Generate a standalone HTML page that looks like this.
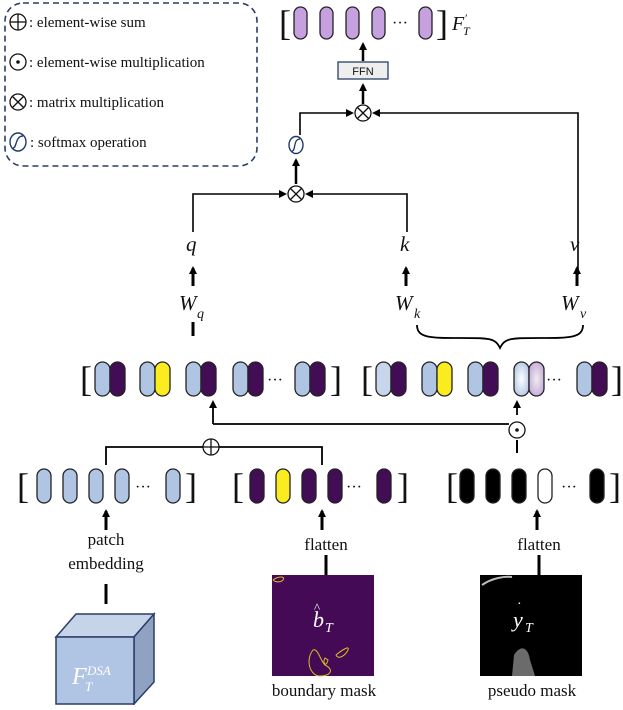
<!DOCTYPE html>
<html><head><meta charset="utf-8"><style>
body{margin:0;background:#fff;width:623px;height:705px;overflow:hidden}
text{font-family:"Liberation Serif",serif;fill:#111}
.m{font-style:italic}
</style></head><body>
<svg width="623" height="705" viewBox="0 0 623 705" xmlns="http://www.w3.org/2000/svg">
<defs>
<marker id="a" markerWidth="8" markerHeight="8" refX="6" refY="4" orient="auto" markerUnits="userSpaceOnUse"><path d="M0,0 L8,4 L0,8 z" fill="#000"/></marker>
<radialGradient id="g1" cx="0.5" cy="0.5" r="0.6"><stop offset="0" stop-color="#fff"/><stop offset="1" stop-color="#b0c4e4"/></radialGradient>
<radialGradient id="g2" cx="0.5" cy="0.5" r="0.6"><stop offset="0" stop-color="#eee"/><stop offset="1" stop-color="#c4a4d8"/></radialGradient>
</defs>
<rect x="5" y="3" width="252" height="163" rx="18" fill="none" stroke="#2a3d66" stroke-width="1.6" stroke-dasharray="6,4"/>
<g stroke="#111" stroke-width="1.3" fill="none">
<circle cx="18" cy="22" r="8"/><line x1="10" y1="22" x2="26" y2="22"/><line x1="18" y1="14" x2="18" y2="30"/>
<circle cx="18" cy="62" r="8"/>
<circle cx="18" cy="102" r="8"/><line x1="12.5" y1="96.5" x2="23.5" y2="107.5"/><line x1="23.5" y1="96.5" x2="12.5" y2="107.5"/>
</g>
<circle cx="18" cy="62" r="1.8" fill="#111"/>
<ellipse cx="18" cy="142" rx="8" ry="9" fill="none" stroke="#1f3a6a" stroke-width="1.4"/>
<path d="M13,148 C17,148 15,136 23,136" fill="none" stroke="#1f3a6a" stroke-width="1.4"/>
<g font-size="15"><text x="29" y="27">: element-wise sum</text><text x="29" y="67">: element-wise multiplication</text><text x="29" y="107">: matrix multiplication</text><text x="30" y="147">: softmax operation</text></g>
<g font-size="36"><text x="279" y="35">[</text><text x="436" y="35">]</text></g>
<g fill="#c7a0e0" stroke="#222" stroke-width="1.3">
<rect x="294" y="7" width="13" height="32" rx="6.5"/><rect x="320" y="7" width="13" height="32" rx="6.5"/><rect x="346" y="7" width="13" height="32" rx="6.5"/><rect x="372" y="7" width="13" height="32" rx="6.5"/><rect x="419" y="7" width="13" height="32" rx="6.5"/>
</g>
<text x="392" y="28" font-size="16">···</text>
<text x="452" y="30" font-size="20" class="m">F</text><text x="465" y="22" font-size="12">′</text><text x="463" y="35" font-size="12" class="m">T</text>
<line x1="363" y1="61" x2="363" y2="44" stroke="#000" stroke-width="2.5" marker-end="url(#a)"/>
<rect x="338" y="62" width="50" height="17" fill="#eee" stroke="#2a3d66" stroke-width="1.3"/>
<text x="363" y="75" font-size="11" text-anchor="middle" style="font-family:'Liberation Sans',sans-serif">FFN</text>
<line x1="363" y1="104" x2="363" y2="85" stroke="#000" stroke-width="2.5" marker-end="url(#a)"/>
<g stroke="#111" stroke-width="1.3" fill="#fff">
<circle cx="363" cy="113" r="8"/><line x1="357.5" y1="107.5" x2="368.5" y2="118.5"/><line x1="368.5" y1="107.5" x2="357.5" y2="118.5"/>
<circle cx="296" cy="194" r="8"/><line x1="290.5" y1="188.5" x2="301.5" y2="199.5"/><line x1="301.5" y1="188.5" x2="290.5" y2="199.5"/>
</g>
<ellipse cx="296" cy="145" rx="7" ry="8.5" fill="none" stroke="#1f3a6a" stroke-width="1.4"/>
<path d="M292,151 C296,151 293,139 300,139" fill="none" stroke="#1f3a6a" stroke-width="1.3"/>
<g stroke="#000" stroke-width="1.6" fill="none">
<polyline points="300,135 300,113 352,113" marker-end="url(#a)"/>
<polyline points="578,275 578,113 374,113" marker-end="url(#a)"/>
<polyline points="193,232 193,194 285,194" marker-end="url(#a)"/>
<polyline points="407,232 407,194 307,194" marker-end="url(#a)"/>
</g>
<line x1="296" y1="184" x2="296" y2="160" stroke="#000" stroke-width="2.5" marker-end="url(#a)"/>
<g font-size="21" class="m"><text x="186" y="251">q</text><text x="400" y="251">k</text><text x="570" y="251">v</text>
<text x="179" y="310">W</text><text x="395" y="310">W</text><text x="561" y="310">W</text></g>
<g font-size="14" class="m"><text x="197" y="318">q</text><text x="414" y="318">k</text><text x="580" y="318">v</text></g>
<g stroke="#000" stroke-width="3">
<line x1="193" y1="286" x2="193" y2="268" marker-end="url(#a)"/><line x1="406" y1="286" x2="406" y2="268" marker-end="url(#a)"/><line x1="577" y1="286" x2="577" y2="268" marker-end="url(#a)"/>
<line x1="193" y1="322" x2="193" y2="336"/>
</g>
<path d="M417,325 C417,338 430,338 460,338 C490,338 495,338 500,348 C505,338 510,338 540,338 C570,338 583,338 583,325" fill="none" stroke="#000" stroke-width="1.8"/>
<g font-size="36"><text x="80" y="391">[</text><text x="330" y="391">]</text><text x="361" y="391">[</text><text x="611" y="391">]</text></g>
<g stroke="#222" stroke-width="1.3">
<rect x="95" y="362" width="15" height="34" rx="7.5" fill="#b0c4e4"/><rect x="110" y="362" width="15" height="34" rx="7.5" fill="#430d55"/>
<rect x="140" y="362" width="15" height="34" rx="7.5" fill="#b0c4e4"/><rect x="155" y="362" width="15" height="34" rx="7.5" fill="#fbec1f"/>
<rect x="186" y="362" width="15" height="34" rx="7.5" fill="#b0c4e4"/><rect x="201" y="362" width="15" height="34" rx="7.5" fill="#430d55"/>
<rect x="233" y="362" width="15" height="34" rx="7.5" fill="#b0c4e4"/><rect x="248" y="362" width="15" height="34" rx="7.5" fill="#430d55"/>
<rect x="295" y="362" width="15" height="34" rx="7.5" fill="#b0c4e4"/><rect x="310" y="362" width="15" height="34" rx="7.5" fill="#430d55"/>
<rect x="376" y="362" width="15" height="34" rx="7.5" fill="#c8d6ec"/><rect x="391" y="362" width="15" height="34" rx="7.5" fill="#430d55"/>
<rect x="422" y="362" width="15" height="34" rx="7.5" fill="#b0c4e4"/><rect x="437" y="362" width="15" height="34" rx="7.5" fill="#fbec1f"/>
<rect x="468" y="362" width="15" height="34" rx="7.5" fill="#b0c4e4"/><rect x="483" y="362" width="15" height="34" rx="7.5" fill="#430d55"/>
<rect x="514" y="362" width="15" height="34" rx="7.5" fill="url(#g1)"/><rect x="529" y="362" width="15" height="34" rx="7.5" fill="url(#g2)"/>
<rect x="577" y="362" width="15" height="34" rx="7.5" fill="#b0c4e4"/><rect x="592" y="362" width="15" height="34" rx="7.5" fill="#430d55"/>
</g>
<text x="267" y="385" font-size="16">···</text><text x="546" y="385" font-size="16">···</text>
<g stroke="#000" stroke-width="1.8" fill="none">
<line x1="213" y1="424" x2="213" y2="402" marker-end="url(#a)"/>
<line x1="213" y1="424" x2="509" y2="424"/>
<polyline points="106,465 106,447 203,447"/><polyline points="219,447 322,447 322,465"/>
<line x1="517" y1="415" x2="517" y2="402" marker-end="url(#a)"/>
<line x1="517" y1="440" x2="517" y2="453" stroke-width="2"/>
</g>
<g stroke="#111" stroke-width="1.3" fill="#fff">
<circle cx="211" cy="447" r="8"/><line x1="203" y1="447" x2="219" y2="447"/><line x1="211" y1="439" x2="211" y2="455"/>
<circle cx="517" cy="430" r="8"/>
</g>
<circle cx="517" cy="430" r="1.8" fill="#111"/>
<g font-size="36"><text x="17" y="498">[</text><text x="185" y="498">]</text><text x="232" y="498">[</text><text x="397" y="498">]</text><text x="446" y="498">[</text><text x="609" y="498">]</text></g>
<g stroke="#222" stroke-width="1.3">
<rect x="37" y="469" width="14" height="34" rx="7" fill="#b0c4e4"/><rect x="63" y="469" width="14" height="34" rx="7" fill="#b0c4e4"/><rect x="89" y="469" width="14" height="34" rx="7" fill="#b0c4e4"/><rect x="115" y="469" width="14" height="34" rx="7" fill="#b0c4e4"/><rect x="166" y="469" width="14" height="34" rx="7" fill="#b0c4e4"/>
<rect x="250" y="469" width="14" height="34" rx="7" fill="#430d55"/><rect x="276" y="469" width="14" height="34" rx="7" fill="#fbec1f"/><rect x="302" y="469" width="14" height="34" rx="7" fill="#430d55"/><rect x="328" y="469" width="14" height="34" rx="7" fill="#430d55"/><rect x="377" y="469" width="14" height="34" rx="7" fill="#430d55"/>
<rect x="460" y="469" width="14" height="34" rx="7" fill="#000"/><rect x="486" y="469" width="14" height="34" rx="7" fill="#000"/><rect x="512" y="469" width="14" height="34" rx="7" fill="#000"/><rect x="538" y="469" width="14" height="34" rx="7" fill="#fff"/><rect x="590" y="469" width="14" height="34" rx="7" fill="#000"/>
</g>
<text x="135" y="492" font-size="16">···</text><text x="346" y="492" font-size="16">···</text><text x="561" y="492" font-size="16">···</text>
<g stroke="#000" stroke-width="3">
<line x1="106" y1="530" x2="106" y2="511" marker-end="url(#a)"/><line x1="322" y1="530" x2="322" y2="511" marker-end="url(#a)"/><line x1="537" y1="530" x2="537" y2="511" marker-end="url(#a)"/>
<line x1="106" y1="584" x2="106" y2="604"/><line x1="326" y1="555" x2="326" y2="575"/><line x1="539" y1="555" x2="539" y2="575"/>
</g>
<g font-size="17" text-anchor="middle"><text x="106" y="545">patch</text><text x="106" y="569">embedding</text><text x="326" y="550">flatten</text><text x="539" y="550">flatten</text>
<text x="324" y="696">boundary mask</text><text x="532" y="696">pseudo mask</text></g>
<polygon points="56,637 76,614 154,614 134,637" fill="#c6d4ea" stroke="#2a3d66" stroke-width="1.5"/>
<polygon points="134,637 154,614 154,682 134,704" fill="#8fa2c2" stroke="#2a3d66" stroke-width="1.5"/>
<rect x="56" y="637" width="78" height="67" fill="#b0c4e4" stroke="#2a3d66" stroke-width="1.5"/>
<text x="72" y="684" font-size="24" class="m" style="fill:#fff">F</text><text x="87" y="675" font-size="13" class="m" style="fill:#fff">DSA</text><text x="85" y="691" font-size="13" class="m" style="fill:#fff">T</text>
<rect x="272" y="575" width="102" height="101" fill="#440a55"/>
<g fill="none" stroke="#d8c021" stroke-width="1">
<path d="M273,580 C278,576 286,576 283,580 C280,583 275,582 273,580"/>
<path d="M313,650 C305,660 310,676 320,676 C330,676 335,670 325,665 C320,660 318,648 313,650z"/>
<path d="M325,658 C322,663 326,668 328,660z"/>
<path d="M336,655 C342,650 350,645 348,650 C345,656 338,660 336,655z"/>
</g>
<text x="313" y="627" font-size="22" class="m" style="fill:#fff">b</text><text x="314" y="612" font-size="13" style="fill:#fff">^</text><text x="325" y="632" font-size="14" class="m" style="fill:#fff">T</text>
<rect x="480" y="575" width="102" height="101" fill="#000"/>
<path d="M482,585 C492,578 505,576 512,577" stroke="#bbb" stroke-width="2" fill="none"/>
<path d="M512,676 L514,655 C520,645 528,646 530,660 L535,676z" fill="#999" opacity="0.7"/>
<text x="513" y="627" font-size="22" class="m" style="fill:#fff">y</text><text x="517" y="608" font-size="14" style="fill:#fff">·</text><text x="525" y="632" font-size="14" class="m" style="fill:#fff">T</text>
</svg>
</body></html>
